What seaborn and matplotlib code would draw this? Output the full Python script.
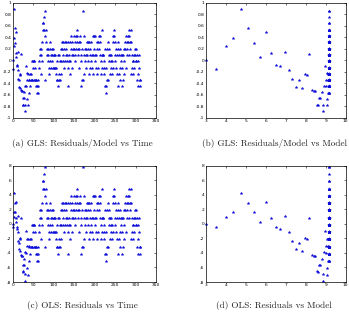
import numpy as np
import pandas as pd
import matplotlib
matplotlib.use("Agg")
import matplotlib.pyplot as plt
import seaborn as sns

# ---- data ----
early_model = [3.0, 3.5, 4.0, 4.35, 4.75, 5.1, 5.4, 5.7, 6.0, 6.25, 6.5, 6.7, 6.95,
               7.15, 7.3, 7.5, 7.65, 7.8, 7.95, 8.05, 8.15, 8.3, 8.4, 8.45, 8.55,
               8.6, 8.65, 8.7, 8.8, 8.85, 8.87, 8.9, 8.95, 9.0, 9.0, 9.05, 9.05,
               9.05, 9.1, 9.1, 9.1]
plateau_model = 9.15

counts = [3, 3, 5, 6, 9, 8, 7, 6, 9, 7, 6, 6, 8, 6, 5, 4, 5, 4, 6, 6, 9, 4, 4, 4, 2,
          2, 3, 3, 4, 2, 1, 5, 8, 5, 6, 7, 3, 2, 7, 6, 4,
          6, 5, 7, 6, 7, 6, 9, 6, 9, 8,
          9, 6, 9, 6, 8, 6, 5, 6, 5, 4,
          4, 5, 6, 8, 9, 10, 11, 10, 7, 11,
          12, 9, 15, 14, 15, 16, 14, 17, 6, 13,
          14, 12, 10, 11, 9, 10, 11, 8, 7, 12,
          11, 9, 10, 8, 11, 9, 10, 11, 8, 10,
          10, 8, 10, 8, 7, 8, 6, 9, 6, 10,
          5, 6, 7, 10, 9, 6, 11, 9, 7, 12,
          11, 12, 9, 10, 11, 8, 12, 9, 10, 11,
          12, 9, 10, 12, 8, 5, 10, 9, 12, 7,
          9, 13, 11, 10, 8, 12, 11, 10, 13, 11,
          12, 9, 10, 13, 11, 12, 14, 13, 11, 10,
          12, 8, 11, 13, 12, 9, 5, 10, 6, 11,
          17, 6, 7, 10, 13, 11, 9, 10, 8, 11,
          12, 10, 9, 12, 11, 7, 12, 8, 11, 10,
          12, 9, 8, 10, 13, 7, 10, 11, 13, 10,
          13, 9, 8, 10, 12, 11, 7, 12, 8, 13,
          11, 12, 13, 10, 9, 7, 10, 8, 14, 10,
          10, 9, 7, 8, 5, 11, 8, 5, 4, 6,
          11, 6, 12, 10, 11, 9, 7, 10, 8, 9,
          10, 7, 9, 13, 12, 8, 14, 13, 10, 12,
          9, 8, 11, 7, 10, 12, 11, 5, 10, 7,
          11, 6, 8, 10, 9, 5, 10, 8, 6, 10,
          9, 11, 7, 12, 11, 8, 13, 12, 10, 11,
          13, 12, 10, 14, 13, 12, 11, 14, 7, 12,
          10, 8, 9, 7, 9, 10, 8, 11, 10, 9,
          11, 9, 6, 10, 7, 9, 5, 8, 10, 6, 5, 6]

captions = ["(a) GLS: Residuals/Model vs Time",
            "(b) GLS: Residuals/Model vs Model",
            "(c) OLS: Residuals vs Time",
            "(d) OLS: Residuals vs Model"]

time_ticks = [0, 50, 100, 150, 200, 250, 300, 350]
model_ticks = [3, 4, 5, 6, 7, 8, 9, 10]
ratio_ticks = [-1, -0.8, -0.6, -0.4, -0.2, 0, 0.2, 0.4, 0.6, 0.8, 1]
resid_ticks = [-8, -6, -4, -2, 0, 2, 4, 6, 8]

# ---- derived table ----
model = early_model + [plateau_model] * (len(counts) - len(early_model))
df = pd.DataFrame({"time": np.arange(len(counts)), "count": counts, "model": model})
df["resid"] = df["count"] - df["model"]
df["ratio"] = df["resid"] / df["model"]

sns.set_style("white")
plt.rcParams["axes.unicode_minus"] = False

fig = plt.figure(figsize=(3.49, 3.17), dpi=100)
pos = {
    0: [0.0364, 0.6278, 0.4106, 0.3637],
    1: [0.5903, 0.6278, 0.4003, 0.3637],
    2: [0.0364, 0.1104, 0.4106, 0.3669],
    3: [0.5903, 0.1104, 0.4003, 0.3669],
}
specs = [("time", "ratio", time_ticks, ratio_ticks, (0, 350), (-1, 1)),
         ("model", "ratio", model_ticks, ratio_ticks, (3, 10), (-1, 1)),
         ("time", "resid", time_ticks, resid_ticks, (0, 350), (-8, 8)),
         ("model", "resid", model_ticks, resid_ticks, (3, 10), (-8, 8))]

cap_y = [143, 143, 305.5, 305.5]
for i, (xc, yc, xt, yt, xl, yl) in enumerate(specs):
    ax = fig.add_axes(pos[i])
    sns.scatterplot(data=df, x=xc, y=yc, ax=ax, marker="*", s=4.5,
                    color=(0.05, 0.05, 0.85), edgecolor=(0.05, 0.05, 0.85),
                    linewidth=0.2, clip_on=False)
    ax.set_xlim(*xl)
    ax.set_ylim(*yl)
    ax.set_xticks(xt)
    ax.set_yticks(yt)
    ax.set_xticklabels([f"{v:g}" for v in xt])
    ax.set_yticklabels([f"{v:g}" for v in yt])
    ax.set_xlabel("")
    ax.set_ylabel("")
    ax.tick_params(direction="in", length=1.5, width=0.4, labelsize=3.2, pad=1,
                   top=True, right=True, colors="black")
    for sp in ax.spines.values():
        sp.set_linewidth(0.5)
        sp.set_color("black")
    p = pos[i]
    cx = p[0] + p[2] / 2
    fig.text(cx - 0.005, 1 - cap_y[i] / 317, captions[i], ha="center", va="center",
             fontsize=6.6, family="cmr10", color="#222222")

fig.savefig("out.png", dpi=100)
